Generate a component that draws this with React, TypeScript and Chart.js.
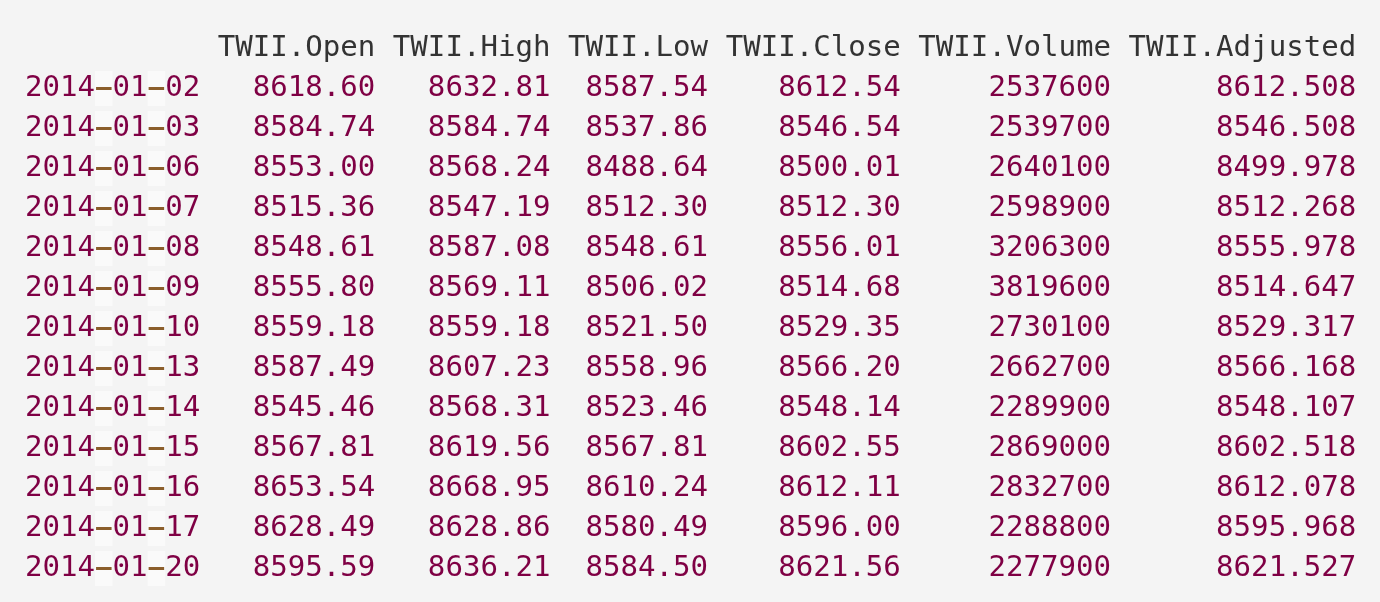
import React, { useRef, useEffect } from 'react';
import { Chart, registerables } from 'chart.js';

Chart.register(...registerables);

const headers = ['', 'TWII.Open', 'TWII.High', 'TWII.Low', 'TWII.Close', 'TWII.Volume', 'TWII.Adjusted'];
const dates = ['2014-01-02', '2014-01-03', '2014-01-06', '2014-01-07', '2014-01-08', '2014-01-09', '2014-01-10',
  '2014-01-13', '2014-01-14', '2014-01-15', '2014-01-16', '2014-01-17', '2014-01-20'];
const openVals = ['8618.60', '8584.74', '8553.00', '8515.36', '8548.61', '8555.80', '8559.18', '8587.49', '8545.46', '8567.81', '8653.54', '8628.49', '8595.59'];
const highVals = ['8632.81', '8584.74', '8568.24', '8547.19', '8587.08', '8569.11', '8559.18', '8607.23', '8568.31', '8619.56', '8668.95', '8628.86', '8636.21'];
const lowVals = ['8587.54', '8537.86', '8488.64', '8512.30', '8548.61', '8506.02', '8521.50', '8558.96', '8523.46', '8567.81', '8610.24', '8580.49', '8584.50'];
const closeVals = ['8612.54', '8546.54', '8500.01', '8512.30', '8556.01', '8514.68', '8529.35', '8566.20', '8548.14', '8602.55', '8612.11', '8596.00', '8621.56'];
const volumeVals = ['2537600', '2539700', '2640100', '2598900', '3206300', '3819600', '2730100', '2662700', '2289900', '2869000', '2832700', '2288800', '2277900'];
const adjustedVals = ['8612.508', '8546.508', '8499.978', '8512.268', '8555.978', '8514.647', '8529.317', '8566.168', '8548.107', '8602.518', '8612.078', '8595.968', '8621.527'];

const columns = [dates, openVals, highVals, lowVals, closeVals, volumeVals, adjustedVals];

const FONT = '29.1px "DejaVu Sans Mono", monospace';
const TEXT = '#7f0044';
const HEAD = '#333333';
const DASH = '#8b5e2b';

const tablePlugin = {
  id: 'textTable',
  afterDraw(chart: any) {
    const { ctx, chartArea, scales } = chart;
    ctx.save();
    ctx.font = FONT;
    ctx.textBaseline = 'middle';
    const cw = ctx.measureText('0').width;
    const widths = columns.map((col, i) => Math.max(headers[i].length, ...col.map((s) => s.length)));
    const rights: number[] = [];
    let pos = 0;
    widths.forEach((w, i) => {
      pos += (i ? 1 : 0) + w;
      rights.push(chartArea.left + pos * cw);
    });
    const rowLabels = ['header', ...dates];
    rowLabels.forEach((label, r) => {
      const y = scales.y.getPixelForValue(r);
      columns.forEach((col, c) => {
        const text = r === 0 ? headers[c] : col[r - 1];
        if (!text) return;
        const x0 = rights[c] - text.length * cw;
        if (r > 0 && c === 0) {
          for (let k = 0; k < text.length; k++) {
            const ch = text[k];
            const x = x0 + k * cw;
            if (ch === '-') {
              ctx.fillStyle = '#fafafa';
              ctx.fillRect(x, y - 17, cw, 35);
              ctx.fillStyle = DASH;
              ctx.fillRect(x + 1, y - 1, cw - 2, 3);
            } else {
              ctx.fillStyle = TEXT;
              ctx.textAlign = 'left';
              ctx.fillText(ch, x, y);
            }
          }
        } else {
          ctx.fillStyle = r === 0 ? HEAD : TEXT;
          ctx.textAlign = 'right';
          ctx.fillText(text, rights[c], y);
        }
      });
    });
    ctx.restore();
  },
};

const App = () => {
  const chartRef = useRef<HTMLCanvasElement>(null);

  useEffect(() => {
    const ctx = chartRef.current!.getContext('2d')!;
    const rowLabels = ['header', ...dates];
    const chart = new Chart(ctx, {
      type: 'line',
      data: {
        labels: rowLabels,
        datasets: [{ data: rowLabels.map(() => null), showLine: false, pointRadius: 0 }],
      },
      options: {
        responsive: false,
        animation: false,
        indexAxis: 'y',
        layout: { padding: { left: 25, top: 28, bottom: 14, right: 0 } },
        plugins: { legend: { display: false }, tooltip: { enabled: false } },
        scales: {
          y: { type: 'category', offset: true, display: false },
          x: { type: 'linear', display: false, min: 0, max: 1 },
        },
      },
      plugins: [tablePlugin],
    });
    return () => chart.destroy();
  }, []);

  return (
    <div style={{ position: 'fixed', inset: 0, background: '#f4f4f4' }}>
      <canvas ref={chartRef} width="1380" height="602"></canvas>
    </div>
  );
};

export default App;
